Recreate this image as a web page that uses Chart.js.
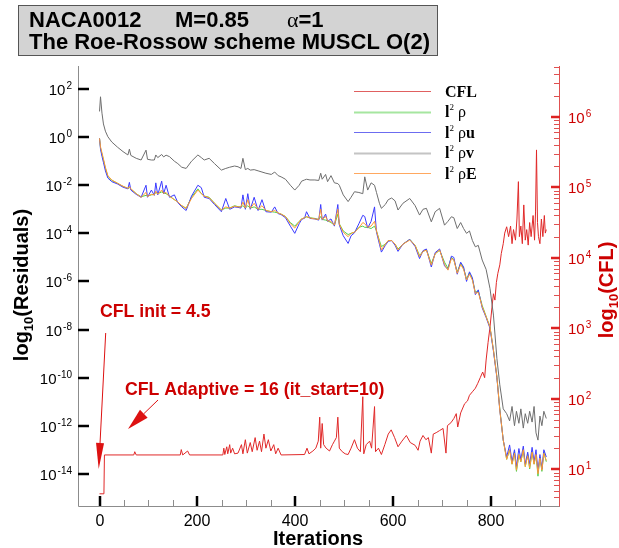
<!DOCTYPE html>
<html>
<head>
<meta charset="utf-8">
<script src="https://cdn.jsdelivr.net/npm/chart.js@4.4.1/dist/chart.umd.min.js"></script>
<style>
  html, body { margin: 0; padding: 0; background: #fff; }
  #wrap { position: relative; width: 619px; height: 548px; }
</style>
</head>
<body>
<div id="wrap"><canvas id="chart"></canvas></div>
<script>
// Residual history, log10 values
const resIter = [0, 2, 5, 8, 12, 17, 25, 37, 48, 58, 61, 64, 75, 85, 95, 98, 106, 112, 115, 119,
  127, 131, 136, 143, 153, 160, 168, 177, 188, 201, 208, 214, 224, 235, 249, 258, 266, 276, 283, 289,
  293, 298, 303, 308, 316, 324, 332, 340, 351, 358, 365, 371, 380, 390, 399, 408, 413, 419, 423, 430,
  440, 448, 452, 455, 462, 466, 473, 480, 487, 490, 498, 508, 514, 521, 530, 538, 542, 548, 555, 562,
  566, 572, 576, 584, 590, 597, 604, 610, 620, 634, 645, 654, 661, 668, 678, 686, 695, 705, 712, 719,
  724, 731, 738, 744, 750, 756, 762, 768, 774, 782, 790, 798, 805, 812, 818, 825, 832, 838, 843, 848,
  852, 857, 861, 866, 870, 875, 879, 884, 888, 892, 896, 900, 904, 908, 913];

const resRho = [-0.05, -0.45, -0.7, -0.95, -1.3, -1.62, -1.8, -1.92, -2.05, -2.13, -2.1, -2.15, -2.35, -2.48, -2.42, -2.45, -2.4, -2.38, -2.3, -2.35,
  -2.28, -2.32, -2.35, -2.45, -2.6, -2.69, -2.85, -2.96, -2.5, -2.15, -2.35, -2.45, -2.5, -2.75, -3.03, -2.95, -2.95, -2.85, -2.89, -2.9,
  -2.85, -2.95, -2.85, -2.95, -2.9, -3.0, -3.0, -3.05, -3.1, -3.12, -3.15, -3.2, -3.3, -3.55, -3.7, -3.5, -3.4, -3.35, -3.32, -3.35,
  -3.38, -3.42, -3.3, -3.42, -3.45, -3.48, -3.55, -3.66, -3.2, -3.6, -3.9, -4.05, -4.0, -3.95, -3.75, -3.7, -3.75, -3.75, -3.8, -3.7,
  -3.9, -4.3, -4.55, -4.45, -4.3, -4.3, -4.45, -4.65, -4.45, -4.25, -4.5, -4.92, -4.75, -4.68, -5.25, -4.85, -4.7, -5.2, -5.45, -5.0,
  -5.1, -5.6, -5.25, -5.45, -5.9, -5.65, -5.9, -6.45, -6.4, -7.0, -7.45, -7.9, -8.85, -9.96, -11.3, -12.6, -13.4, -13.0, -13.6, -13.1,
  -13.9, -13.2, -13.5, -13.0, -13.7, -13.2, -13.8, -13.1, -13.6, -13.2, -14.1, -13.3, -13.9, -13.1, -13.5];

const resRhoU = [-0.05, -0.5, -0.8, -1.05, -1.4, -1.7, -1.85, -1.95, -2.08, -2.15, -1.88, -2.2, -2.38, -2.5, -2.0, -2.5, -2.2, -2.42, -1.9, -2.4,
  -1.83, -2.36, -2.0, -2.5, -2.4, -2.72, -2.9, -3.05, -2.45, -2.0, -2.1, -2.5, -2.55, -2.8, -3.1, -2.55, -3.0, -2.9, -2.92, -2.95,
  -2.4, -3.0, -2.35, -3.0, -2.5, -3.05, -2.6, -3.1, -3.12, -2.9, -3.18, -3.22, -3.35, -3.7, -4.0, -3.6, -3.42, -3.37, -3.1, -3.38,
  -3.4, -3.45, -2.8, -3.45, -3.2, -3.5, -3.4, -3.7, -2.8, -3.65, -4.1, -4.42, -4.1, -3.98, -3.6, -3.25, -3.3, -3.78, -3.5, -2.9,
  -3.95, -4.45, -4.78, -4.5, -4.33, -4.3, -4.5, -4.75, -4.45, -4.25, -4.55, -5.05, -4.72, -4.65, -5.4, -4.8, -4.65, -5.35, -5.5, -4.95,
  -5.0, -5.7, -5.2, -5.4, -6.0, -5.6, -5.85, -6.55, -6.35, -7.1, -7.5, -7.95, -8.9, -10.0, -11.35, -12.6, -13.3, -12.8, -13.5, -13.0,
  -13.7, -12.95, -13.4, -12.85, -13.6, -13.1, -13.6, -12.9, -13.5, -13.0, -13.9, -13.2, -13.8, -13.0, -13.3];

const resRhoV = [1.07, 1.68, 1.0, 0.55, 0.25, 0.02, -0.2, -0.42, -0.6, -0.74, -0.5, -0.76, -0.88, -0.95, -0.54, -0.92, -0.95, -0.95, -0.74, -0.85,
  -0.72, -0.82, -0.75, -0.81, -1.0, -1.1, -1.25, -1.3, -1.0, -0.74, -0.85, -0.95, -0.88, -1.1, -1.37, -1.3, -1.25, -1.2, -1.23, -1.3,
  -0.88, -1.35, -1.3, -1.37, -1.35, -1.4, -1.45, -1.5, -1.55, -1.45, -1.6, -1.65, -1.75, -2.0, -2.2, -2.0, -1.83, -1.78, -1.75, -1.78,
  -1.78, -1.8, -1.5, -1.75, -1.55, -1.85, -1.6, -1.9, -1.93, -2.0, -2.4, -2.68, -2.5, -2.27, -2.3, -2.35, -1.65, -2.2, -1.9, -2.0,
  -2.3, -2.75, -2.96, -2.8, -2.6, -2.53, -2.65, -3.03, -2.75, -2.55, -2.85, -3.24, -3.0, -2.96, -3.52, -3.1, -2.96, -3.66, -3.5, -3.31,
  -3.35, -3.8, -3.55, -3.8, -4.0, -3.9, -4.3, -4.56, -4.5, -5.11, -5.5, -6.3, -7.4, -9.2, -10.3, -11.3, -11.5, -11.8, -11.2, -12.0,
  -11.4, -11.9, -11.3, -12.1, -11.5, -11.9, -11.4, -11.85, -11.2, -12.3, -12.6, -11.6, -12.0, -11.4, -11.7];

const resRhoE = [-0.05, -0.4, -0.65, -0.9, -1.25, -1.6, -1.78, -1.92, -2.04, -2.13, -2.05, -2.15, -2.35, -2.5, -2.3, -2.47, -2.38, -2.4, -2.25, -2.37,
  -2.2, -2.34, -2.3, -2.46, -2.6, -2.69, -2.85, -2.96, -2.55, -2.2, -2.35, -2.45, -2.52, -2.75, -3.03, -2.9, -2.95, -2.87, -2.9, -2.9,
  -2.7, -2.95, -2.6, -2.96, -2.75, -3.0, -2.85, -3.05, -3.1, -3.05, -3.15, -3.2, -3.3, -3.6, -3.78, -3.52, -3.4, -3.35, -3.3, -3.36,
  -3.4, -3.42, -3.0, -3.42, -3.3, -3.48, -3.5, -3.66, -3.0, -3.62, -3.95, -4.14, -4.0, -3.95, -3.78, -3.55, -3.6, -3.75, -3.7, -3.5,
  -3.9, -4.35, -4.69, -4.45, -4.3, -4.3, -4.45, -4.69, -4.45, -4.28, -4.5, -4.97, -4.75, -4.7, -5.32, -4.85, -4.69, -5.3, -5.53, -5.05,
  -5.1, -5.66, -5.3, -5.5, -5.94, -5.7, -5.95, -6.5, -6.45, -7.05, -7.47, -7.9, -8.85, -9.96, -11.35, -12.6, -13.4, -13.0, -13.6, -13.15,
  -13.85, -13.2, -13.5, -13.0, -13.7, -13.25, -13.75, -13.1, -13.6, -13.2, -14.0, -13.35, -13.85, -13.15, -13.45];

// CFL history, log10 values
const cflIter = [0, 9, 10, 70, 72, 75, 165, 167, 170, 180, 184, 252, 254, 256, 260, 262, 266, 268, 272, 276,
  283, 290, 293, 298, 302, 308, 312, 318, 322, 327, 331, 336, 340, 345, 350, 356, 360, 365, 371, 419,
  424, 428, 436, 442, 447, 450, 452, 455, 458, 463, 470, 476, 480, 484, 487, 490, 496, 502, 508, 514,
  521, 527, 533, 538, 540, 545, 552, 556, 562, 564, 570, 576, 583, 590, 596, 603, 610, 618, 627, 635,
  645, 651, 655, 661, 667, 672, 678, 682, 688, 695, 702, 708, 711, 718, 724, 729, 732, 738, 746, 752,
  756, 762, 768, 773, 778, 783, 787, 790, 794, 798, 802, 805, 808, 811, 814, 818, 821, 825, 828, 832,
  836, 840, 843, 846, 850, 853, 856, 858, 861, 864, 867, 870, 873, 876, 879, 882, 886, 889, 891, 893,
  895, 897, 900, 903, 906, 909, 911, 913];

const cflLog = [0.653, 0.653, 1.204, 1.204, 1.25, 1.204, 1.204, 1.28, 1.204, 1.26, 1.204, 1.204, 1.3, 1.21, 1.32, 1.22, 1.35, 1.23, 1.3, 1.22,
  1.23, 1.35, 1.22, 1.42, 1.23, 1.38, 1.25, 1.45, 1.27, 1.4, 1.25, 1.5, 1.3, 1.42, 1.26, 1.35, 1.22, 1.3, 1.204, 1.21,
  1.3, 1.22, 1.26, 1.3, 1.4, 1.74, 1.3, 1.65, 1.35, 1.3, 1.26, 1.35, 1.4, 1.45, 1.74, 1.3, 1.25, 1.22, 1.21, 1.3,
  1.42, 1.3, 1.25, 2.03, 1.22, 1.35, 1.4, 1.3, 1.89, 1.25, 1.3, 1.21, 1.35, 1.5, 1.56, 1.45, 1.32, 1.4, 1.48, 1.38,
  1.34, 1.27, 1.4, 1.48, 1.42, 1.45, 1.23, 1.5, 1.52, 1.55, 1.58, 1.23, 1.62, 1.66, 1.72, 1.79, 1.6, 1.8, 1.93, 1.97,
  2.05, 2.1, 2.15, 2.22, 2.3, 2.38, 2.3, 2.55, 2.8, 3.02, 3.3, 3.49, 3.4, 3.65, 3.78, 3.9, 4.06, 4.2, 4.35, 4.44,
  4.3, 4.45, 4.2, 4.4, 4.25, 4.55, 5.08, 4.3, 4.45, 4.2, 4.75, 4.25, 4.4, 4.18, 4.5, 4.3, 4.6, 4.25, 4.65, 5.53,
  4.5, 4.3, 4.2, 4.55, 4.3, 4.6, 4.35, 4.4];

const iterTicks = [0, 200, 400, 600, 800];
const resTicks = [-14, -12, -10, -8, -6, -4, -2, 0, 2];
const cflTicks = [1, 2, 3, 4, 5, 6];

const SANS = '"Liberation Sans", Arial, Helvetica, sans-serif';
const SERIF = '"Liberation Serif", "Times New Roman", serif';
const RED = '#cc0000';

const toPoints = (xs, ys) => xs.map((x, i) => ({ x: x, y: ys[i] }));

// "10" with a raised exponent
function drawPow(ctx, x, y, exp, align, color) {
  ctx.fillStyle = color;
  ctx.textAlign = 'left';
  ctx.textBaseline = 'alphabetic';
  ctx.font = '15px ' + SANS;
  const wb = ctx.measureText('10').width;
  ctx.font = '10px ' + SANS;
  const we = ctx.measureText(exp).width;
  const x0 = align === 'right' ? x - wb - we - 1 : x;
  ctx.font = '15px ' + SANS;
  ctx.fillText('10', x0, y + 5.5);
  ctx.font = '10px ' + SANS;
  ctx.fillText(exp, x0 + wb + 1, y - 0.5);
}

// text made of pieces with their own font and vertical shift
function drawPieces(ctx, x, y, pieces, color) {
  ctx.fillStyle = color;
  ctx.textAlign = 'left';
  ctx.textBaseline = 'alphabetic';
  let cx = x;
  pieces.forEach((p) => {
    ctx.font = p.font;
    ctx.fillText(p.t, cx, y + (p.dy || 0));
    cx += ctx.measureText(p.t).width;
  });
  return cx - x;
}

function piecesWidth(ctx, pieces) {
  let w = 0;
  pieces.forEach((p) => { ctx.font = p.font; w += ctx.measureText(p.t).width; });
  return w;
}

function drawArrow(ctx, x1, y1, x2, y2, headLen, headW, color) {
  const a = Math.atan2(y2 - y1, x2 - x1);
  const bx = x2 - headLen * Math.cos(a);
  const by = y2 - headLen * Math.sin(a);
  ctx.strokeStyle = color;
  ctx.lineWidth = 1;
  ctx.beginPath();
  ctx.moveTo(x1, y1);
  ctx.lineTo(bx, by);
  ctx.stroke();
  ctx.fillStyle = color;
  ctx.beginPath();
  ctx.moveTo(x2, y2);
  ctx.lineTo(bx + headW / 2 * Math.sin(a), by - headW / 2 * Math.cos(a));
  ctx.lineTo(bx - headW / 2 * Math.sin(a), by + headW / 2 * Math.cos(a));
  ctx.closePath();
  ctx.fill();
}

const legendRows = [
  { color: '#e06060', width: 1, pieces: [{ t: 'CFL', font: 'bold 16px ' + SERIF }] },
  { color: '#a6e6a0', width: 2, pieces: [{ t: 'l', font: 'bold 16px ' + SERIF }, { t: '2', font: '9px ' + SERIF, dy: -7 }, { t: ' \u03c1', font: '16px ' + SERIF }] },
  { color: '#6c6cf0', width: 1, pieces: [{ t: 'l', font: 'bold 16px ' + SERIF }, { t: '2', font: '9px ' + SERIF, dy: -7 }, { t: ' \u03c1', font: '16px ' + SERIF }, { t: 'u', font: 'bold 16px ' + SERIF }] },
  { color: '#c4c4c4', width: 2, pieces: [{ t: 'l', font: 'bold 16px ' + SERIF }, { t: '2', font: '9px ' + SERIF, dy: -7 }, { t: ' \u03c1', font: '16px ' + SERIF }, { t: 'v', font: 'bold 16px ' + SERIF }] },
  { color: '#ffa860', width: 1, pieces: [{ t: 'l', font: 'bold 16px ' + SERIF }, { t: '2', font: '9px ' + SERIF, dy: -7 }, { t: ' \u03c1', font: '16px ' + SERIF }, { t: 'E', font: 'bold 16px ' + SERIF }] },
];

const decorPlugin = {
  id: 'tecplotDecor',
  afterDraw(chart) {
    const ctx = chart.ctx;
    const { left, right, top, bottom } = chart.chartArea;
    const sx = chart.scales.x;
    const sy = chart.scales.y;
    const sc = chart.scales.y2;
    ctx.save();

    // axis lines
    ctx.lineWidth = 1;
    ctx.strokeStyle = '#8c8c8c';
    ctx.beginPath();
    ctx.moveTo(left + 0.5, top);
    ctx.lineTo(left + 0.5, bottom + 0.5);
    ctx.lineTo(right, bottom + 0.5);
    ctx.stroke();
    ctx.strokeStyle = '#e05050';
    ctx.beginPath();
    ctx.moveTo(right - 0.5, top);
    ctx.lineTo(right - 0.5, bottom + 0.5);
    ctx.stroke();

    // bottom ticks
    for (let it = 50; it < sx.max; it += 50) {
      const px = Math.round(sx.getPixelForValue(it)) + 0.5;
      ctx.strokeStyle = '#8c8c8c';
      ctx.lineWidth = 1;
      ctx.beginPath();
      ctx.moveTo(px, bottom);
      ctx.lineTo(px, bottom - 6);
      ctx.stroke();
    }
    ctx.fillStyle = '#000';
    ctx.font = '16px ' + SANS;
    ctx.textAlign = 'center';
    ctx.textBaseline = 'alphabetic';
    iterTicks.forEach((it) => {
      const px = Math.round(sx.getPixelForValue(it));
      ctx.strokeStyle = '#000';
      ctx.lineWidth = 2.5;
      ctx.beginPath();
      ctx.moveTo(px, bottom);
      ctx.lineTo(px, bottom - 10);
      ctx.stroke();
      ctx.fillText(String(it), px, 526);
    });

    // left ticks
    resTicks.forEach((v) => {
      const py = Math.round(sy.getPixelForValue(v));
      ctx.strokeStyle = '#000';
      ctx.lineWidth = 2.5;
      ctx.beginPath();
      ctx.moveTo(left, py);
      ctx.lineTo(left + 11, py);
      ctx.stroke();
      drawPow(ctx, 72, py, String(v), 'right', '#000');
    });

    // right ticks, major and minor
    ctx.strokeStyle = '#e05050';
    for (let d = 0; d <= 6; d++) {
      for (let k = 2; k <= 9; k++) {
        const v = d + Math.log10(k);
        if (v < sc.min || v > sc.max) continue;
        const py = Math.round(sc.getPixelForValue(v)) + 0.5;
        ctx.lineWidth = 1;
        ctx.beginPath();
        ctx.moveTo(right, py);
        ctx.lineTo(right - 6, py);
        ctx.stroke();
      }
    }
    cflTicks.forEach((v) => {
      const py = Math.round(sc.getPixelForValue(v));
      ctx.strokeStyle = '#dd2222';
      ctx.lineWidth = 2.5;
      ctx.beginPath();
      ctx.moveTo(right, py);
      ctx.lineTo(right - 9, py);
      ctx.stroke();
      drawPow(ctx, 568, py, String(v), 'left', RED);
    });

    // axis titles
    const leftTitle = [
      { t: 'log', font: 'bold 20px ' + SANS },
      { t: '10', font: 'bold 13px ' + SANS, dy: 5 },
      { t: '(Residuals)', font: 'bold 20px ' + SANS },
    ];
    ctx.save();
    ctx.translate(28, 285);
    ctx.rotate(-Math.PI / 2);
    drawPieces(ctx, -piecesWidth(ctx, leftTitle) / 2, 0, leftTitle, '#000');
    ctx.restore();

    const rightTitle = [
      { t: 'log', font: 'bold 20px ' + SANS },
      { t: '10', font: 'bold 13px ' + SANS, dy: 5 },
      { t: '(CFL)', font: 'bold 20px ' + SANS },
    ];
    ctx.save();
    ctx.translate(613, 290);
    ctx.rotate(-Math.PI / 2);
    drawPieces(ctx, -piecesWidth(ctx, rightTitle) / 2, 0, rightTitle, RED);
    ctx.restore();

    ctx.fillStyle = '#000';
    ctx.font = 'bold 20px ' + SANS;
    ctx.textAlign = 'center';
    ctx.fillText('Iterations', 318, 545);

    // title box
    ctx.fillStyle = '#d3d3d3';
    ctx.fillRect(18, 5, 419, 50);
    ctx.strokeStyle = '#555';
    ctx.lineWidth = 1;
    ctx.strokeRect(18.5, 5.5, 419, 50);
    ctx.fillStyle = '#000';
    ctx.textAlign = 'left';
    ctx.font = 'bold 22px ' + SANS;
    ctx.fillText('NACA0012', 29, 27);
    ctx.fillText('M=0.85', 175, 27);
    drawPieces(ctx, 287, 27, [{ t: '\u03b1', font: '22px ' + SERIF }, { t: '=1', font: 'bold 22px ' + SANS }], '#000');
    ctx.font = 'bold 22px ' + SANS;
    ctx.fillStyle = '#000';
    ctx.fillText('The Roe-Rossow scheme MUSCL O(2)', 29, 49);

    // legend
    legendRows.forEach((row, i) => {
      const y = 91 + i * 20.6;
      ctx.strokeStyle = row.color;
      ctx.lineWidth = row.width;
      ctx.beginPath();
      ctx.moveTo(354, Math.round(y) + 0.5);
      ctx.lineTo(431, Math.round(y) + 0.5);
      ctx.stroke();
      drawPieces(ctx, 445, y + 5.5, row.pieces, '#000');
    });

    // annotations
    ctx.fillStyle = RED;
    ctx.font = 'bold 17.7px ' + SANS;
    ctx.textAlign = 'left';
    ctx.fillText('CFL init = 4.5', 100, 317);
    ctx.fillText('CFL Adaptive = 16 (it_start=10)', 125, 395);
    drawArrow(ctx, 105.7, 333, 98.7, 469, 26, 8, '#dd1111');
    drawArrow(ctx, 158, 400, 128, 429, 22, 11, '#dd1111');

    ctx.restore();
  }
};

new Chart(document.getElementById('chart'), {
  type: 'line',
  data: {
    datasets: [
      { label: 'CFL', data: toPoints(cflIter, cflLog), yAxisID: 'y2', borderColor: '#e02828', order: 4 },
      { label: 'l2 rho', data: toPoints(resIter, resRho), yAxisID: 'y', borderColor: '#4fd04f', order: 3 },
      { label: 'l2 rhou', data: toPoints(resIter, resRhoU), yAxisID: 'y', borderColor: '#3a3aff', order: 2 },
      { label: 'l2 rhov', data: toPoints(resIter, resRhoV), yAxisID: 'y', borderColor: '#6e6e6e', order: 1 },
      { label: 'l2 rhoE', data: toPoints(resIter, resRhoE), yAxisID: 'y', borderColor: '#ff9a33', order: 0 },
    ],
  },
  options: {
    responsive: true,
    maintainAspectRatio: false,
    animation: false,
    events: [],
    layout: { padding: { left: 78, top: 66, right: 59, bottom: 42 } },
    elements: {
      line: { borderWidth: 1, tension: 0 },
      point: { radius: 0 },
    },
    plugins: { legend: { display: false }, tooltip: { enabled: false } },
    scales: {
      x: { type: 'linear', min: -44, max: 941, display: false },
      y: { type: 'linear', position: 'left', min: -15.34, max: 2.96, display: false },
      y2: { type: 'linear', position: 'right', min: 0.48, max: 6.72, display: false },
    },
  },
  plugins: [decorPlugin],
});
</script>
</body>
</html>
